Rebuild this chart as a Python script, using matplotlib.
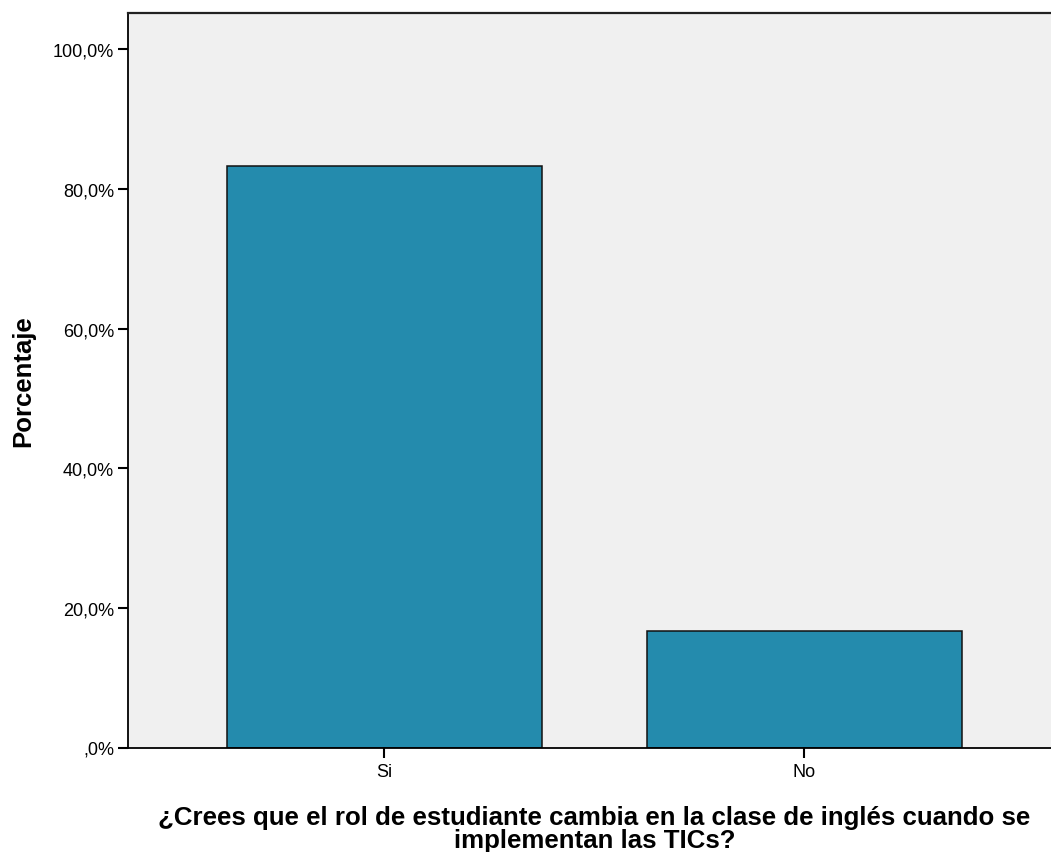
import numpy as np
import matplotlib.pyplot as plt

categories = ['Si', 'No']
percentages = [83.3, 16.7]
ytick_values = [0, 20, 40, 60, 80, 100]
ytick_labels = [',0%', '20,0%', '40,0%', '60,0%', '80,0%', '100,0%']

plt.rcParams['font.family'] = ['Liberation Sans', 'DejaVu Sans']

fig = plt.figure(figsize=(10.51, 8.53), dpi=100)
ax = fig.add_axes([128 / 1051, 104.5 / 853, 1 - 128 / 1051, 735 / 853])
ax.set_facecolor('#F0F0F0')

x = np.arange(len(categories))
ax.bar(x, percentages, width=0.75, color='#248BAD', edgecolor='#111111', linewidth=1.1, zorder=2)

ax.set_xlim(-0.6107, 1.587)
ax.set_ylim(0, 105.3)
ax.set_xticks(x)
ax.set_xticklabels(categories, fontsize=13)
ax.set_yticks(ytick_values)
ax.set_yticklabels(ytick_labels, fontsize=13)
ax.tick_params(axis='y', length=7, width=1.5, pad=3)
ax.tick_params(axis='x', length=7, width=1.5, pad=4)

for side in ['left', 'bottom']:
    ax.spines[side].set_linewidth(1.3)
ax.spines['top'].set_linewidth(1.6)
ax.spines['top'].set_color('#222222')
ax.spines['right'].set_visible(False)

ax.set_ylabel('Porcentaje', fontsize=18.5, fontweight='bold', labelpad=13)
ax.set_xlabel('¿Crees que el rol de estudiante cambia en la clase de inglés cuando se\nimplementan las TICs?',
              fontsize=18.6, fontweight='bold', labelpad=18, linespacing=0.95)
ax.xaxis.label.set_x(0.5055)

fig.savefig('out.png', dpi=100)
